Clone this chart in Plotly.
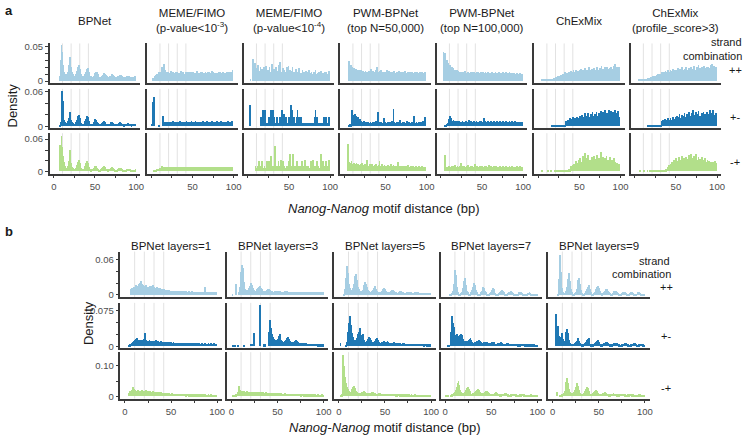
import plotly.graph_objects as go

# ---------------- data (density values in units of 0.001, distance 0..99 bp) ----------------
DIST = list(range(100))

TOP_HEADERS = ["BPNet", "MEME/FIMO<br>(p-value&lt;10<sup>-3</sup>)", "MEME/FIMO<br>(p-value&lt;10<sup>-4</sup>)",
               "PWM-BPNet<br>(top N=50,000)", "PWM-BPNet<br>(top N=100,000)", "ChExMix",
               "ChExMix<br>(profile_score&gt;3)"]
BOT_HEADERS = ["BPNet layers=1", "BPNet layers=3", "BPNet layers=5", "BPNet layers=7", "BPNet layers=9"]
STRANDS = ["++", "+-", "-+"]
HELIX_LINES = [10.5, 21, 31.5, 42]
X_TICKS = [0, 25, 50, 75, 100]

# ---- top grid, strand ++ ----
T_BP_PP = [0,0,0,0,0,0,0,6,30,51, 42,22,13,9,8,8,9,13,22,34, 30,19,12,9,7,7,8,10,14,20,
           22,17,12,9,7,6,6,7,9,13, 17,18,13,9,7,6,5,5,6,8, 11,13,12,9,7,5,5,5,6,8,
           10,11,10,8,6,5,5,5,6,7, 9,9,8,6,5,5,5,5,6,7, 8,8,7,6,5,5,5,5,6,7, 7,6,5,5,5,5,5,5,6,5]
T_M3_PP = [0,0,4,0,0,6,8,9,10,11, 12,11,13,20,14,12,24,15,13,12, 11,13,9,11,14,10,9,12,11,8,
           12,10,13,11,9,11,14,10,11,13, 10,9,12,11,10,13,9,12,11,10, 12,13,9,11,10,11,14,11,9,11,
           10,12,13,9,11,10,12,11,9,13, 12,10,11,9,14,12,10,11,10,11, 9,11,12,10,13,10,11,12,9,11,
           11,10,12,13,10,11,12,10,13,16]
T_M4_PP = [0,0,0,2,0,0,31,12,26,8, 18,9,22,14,6,20,12,17,8,19, 14,7,21,10,16,12,20,9,13,24,
           11,17,8,15,19,10,14,22,9,27, 13,8,18,11,16,9,12,20,8,21, 10,15,7,14,19,9,12,8,17,11,
           7,13,18,9,11,6,15,10,12,8, 14,9,7,12,16,8,11,13,7,10, 12,8,15,9,6,11,13,8,10,14,
           7,11,9,13,8,12,10,9,14,11]
T_P50_PP = [0,0,0,0,0,0,28,19,22,17, 20,16,18,15,17,14,16,13,15,14, 13,15,12,14,13,12,14,11,13,12,
            14,11,13,17,12,14,11,13,12,15, 19,13,11,14,12,16,11,13,12,10, 13,11,15,12,10,14,11,12,13,10,
            12,14,11,10,13,12,11,14,10,12, 11,13,10,12,14,11,10,12,11,13, 10,12,11,13,10,11,12,10,11,12,
            10,11,12,10,11,13,10,11,12,10]
T_P100_PP = [0,0,0,41,38,40,24,30,22,26, 19,23,17,20,15,18,14,16,13,15, 12,14,11,13,12,10,13,11,12,14,
             11,10,12,13,11,10,12,11,10,13, 12,10,11,13,10,12,11,10,12,11, 10,12,11,10,13,11,10,12,11,10,
             11,10,12,11,10,11,12,10,11,10, 12,10,11,10,11,12,10,11,10,12, 10,11,10,12,11,10,11,10,9,11,
             10,9,11,10,9,10,11,9,10,9]
T_CX_PP = [0,0,0,0,0,1,1,1,1,1, 2,1,2,2,2,3,2,3,3,4, 3,4,5,4,6,5,7,6,8,7,
           9,8,10,12,9,11,10,13,11,12, 14,12,11,16,13,12,15,11,14,13, 12,15,17,13,14,16,12,18,15,13,
           16,14,19,13,15,17,14,12,18,16, 14,17,20,15,13,18,16,21,14,17, 15,19,16,14,20,17,15,18,16,19,
           17,15,21,24,16,18,20,15,19,17]
T_CXP_PP = [0,0,0,0,0,1,1,1,2,1, 2,2,3,2,3,3,4,3,4,5, 4,5,6,5,7,6,8,7,9,8,
            10,9,11,13,10,12,11,14,12,13, 15,13,12,16,14,12,17,13,15,14, 13,16,18,14,15,17,13,19,16,14,
            17,15,20,14,16,18,15,13,19,17, 15,18,21,16,14,19,17,22,15,18, 16,20,17,15,21,18,16,19,17,20,
            18,16,22,24,17,19,21,16,20,18]

# ---- top grid, strand +- ----
T_BP_PM = [0,0,0,0,0,0,0,3,8,40, 62,45,12,7,6,5,6,9,15,25, 22,12,8,6,5,5,6,8,12,18,
           20,14,9,6,5,5,5,6,9,13, 19,17,10,7,5,4,4,5,7,10, 13,12,8,6,4,4,4,5,6,8,
           10,9,7,5,4,4,4,4,5,7, 8,7,6,4,4,4,4,4,5,6, 7,6,5,4,4,3,4,4,5,5, 6,5,4,4,3,4,4,4,4,4]
T_M3_PM = [0,5,42,10,52,0,0,0,0,0, 2,0,0,0,18,0,6,7,6,8, 6,7,5,8,6,7,6,9,7,6,
           7,6,8,7,6,9,7,6,8,7, 6,8,7,9,6,7,8,6,7,10, 7,6,8,7,9,6,7,8,6,7,
           8,7,6,9,7,6,8,7,10,6, 7,8,6,7,9,7,6,8,7,6, 9,7,6,8,7,10,6,7,8,7, 6,8,7,9,6,7,8,6,9,7]
T_M4_PM = [0,0,38,0,0,0,0,0,0,0, 0,0,0,0,0,6,17,6,28,17, 6,28,6,0,6,17,6,6,28,17,
           28,6,17,6,6,17,6,6,6,17, 6,28,6,6,22,6,17,6,6,17, 6,17,38,6,28,6,17,6,6,17,
           28,6,17,6,17,6,6,6,0,6, 6,0,6,6,6,6,6,6,6,6, 6,17,28,6,17,6,6,0,0,6, 6,6,17,6,6,17,6,0,17,0]
T_P50_PM = [0,0,0,0,0,0,2,4,3,10, 28,20,17,22,14,18,12,16,11,13, 8,10,7,6,9,5,6,8,5,7,
            6,5,7,5,6,8,5,6,7,9, 6,25,8,6,5,7,6,5,14,6, 7,5,6,8,5,6,7,5,9,6,
            31,7,5,6,8,5,6,7,12,5, 6,8,5,7,6,5,9,6,5,7, 6,5,7,6,8,19,5,6,7,5, 6,8,5,7,6,5,10,6,17,5]
T_P100_PM = [0,0,0,0,0,2,3,4,6,9, 13,19,14,10,9,12,8,10,7,9, 8,7,9,6,8,7,10,6,8,7,
             9,7,6,8,12,7,9,6,8,7, 10,8,6,9,7,8,6,10,7,9, 8,6,15,7,9,8,7,10,6,8,
             7,9,6,8,10,7,8,6,9,7, 8,6,9,7,8,10,6,8,7,9, 7,8,6,9,7,8,10,6,8,7, 9,7,8,6,7,8,6,7,8,6]
T_CX_PM = [0,0,0,0,0,0,0,0,0,0, 0,0,0,0,0,0,0,2,2,0, 2,0,2,2,0,3,2,0,3,2,
           0,3,2,3,10,8,12,9,11,14, 10,13,16,11,9,14,12,17,10,15, 13,18,12,20,14,11,16,23,13,19,
           15,24,12,17,21,14,26,13,18,22, 15,25,19,12,23,17,27,14,20,26, 16,28,21,13,24,18,29,15,22,27,
           14,25,17,29,20,12,23,27,16,15]
T_CXP_PM = [0,0,0,0,0,0,0,0,0,0, 0,0,0,0,0,0,2,0,2,2, 0,2,2,3,0,2,3,0,2,3,
            2,0,3,9,11,8,13,10,12,9, 14,11,9,15,12,10,17,13,11,16, 14,19,12,17,22,13,15,20,12,18,
            24,14,17,21,13,26,16,19,12,23, 28,15,20,17,25,13,22,27,16,19, 14,24,18,26,15,21,13,25,17,22,
            19,28,16,23,13,29,20,17,24,14]

# ---- top grid, strand -+ ----
T_BP_MP = [0,0,0,0,0,0,0,48,30,66, 45,28,18,10,6,5,6,10,20,40, 30,16,9,6,5,4,5,7,12,18,
           21,16,9,6,4,4,4,6,10,16, 20,15,9,5,4,3,4,5,7,10, 11,10,7,5,4,3,3,4,6,8,
           10,11,8,5,4,3,3,4,5,7, 8,8,6,4,3,3,3,4,5,6, 7,6,5,4,3,3,3,3,4,5, 5,5,4,3,3,3,3,3,3,4]
T_M3_MP = [0,0,0,2,2,3,3,4,4,5, 5,6,7,10,8,7,7,8,7,8, 7,8,7,8,8,7,8,7,8,8,
           7,8,8,7,8,9,8,7,8,8, 8,7,9,8,7,8,8,9,7,8, 8,9,7,8,8,9,8,7,8,9,
           8,7,9,8,8,7,9,8,7,8, 9,8,7,8,9,8,7,9,8,8, 7,8,9,8,7,9,8,8,9,7, 8,9,8,7,9,8,8,9,8,8]
T_M4_MP = [0,0,0,0,0,0,0,0,0,10, 0,6,10,20,6,0,10,20,6,0, 10,6,0,20,6,20,10,0,28,6,
           10,6,20,47,6,10,0,20,6,10, 22,6,20,0,10,6,6,10,6,20, 10,33,6,10,20,33,6,10,6,20,
           6,0,10,10,6,20,6,0,10,22, 6,10,6,10,0,6,20,10,6,22, 6,10,0,6,20,10,6,6,10,33,
           6,20,0,10,6,20,10,6,22,10]
T_P50_MP = [0,0,0,0,0,50,18,12,15,19, 14,12,16,11,13,15,10,14,12,11, 13,10,15,12,11,14,10,12,21,11,
            10,13,12,9,14,11,10,12,9,13, 11,10,12,20,9,11,13,10,9,12, 11,9,10,12,10,9,11,13,9,10,
            12,9,10,11,9,18,10,8,11,9, 10,8,9,11,9,10,8,9,12,8, 9,10,8,9,11,8,9,10,8,9, 8,10,9,8,9,11,8,9,8,7]
T_P100_MP = [0,0,0,0,0,31,8,7,9,8, 10,9,8,11,9,8,10,12,9,8, 11,9,8,10,16,9,8,11,10,9,
             8,10,9,12,8,9,11,8,10,9, 8,14,9,8,10,9,8,11,8,9, 10,8,9,11,8,10,9,8,12,9,
             8,10,9,8,11,9,8,10,9,8, 9,8,10,9,8,11,8,9,8,10, 8,9,8,10,8,9,11,8,9,8, 9,8,10,8,9,8,10,8,9,7]
T_CX_MP = [0,0,0,0,0,1,0,0,0,0, 0,0,1,0,0,0,1,0,0,0, 1,0,1,0,1,1,0,1,1,1,
           1,2,1,2,2,1,3,2,4,3, 10,5,12,8,14,9,20,11,16,22, 13,25,18,12,21,28,16,35,19,24,
           14,30,17,22,12,26,20,15,28,18, 23,13,31,19,25,16,36,21,14,27, 18,24,12,29,17,21,15,26,19,13,
           22,16,24,14,18,12,16,14,13,13]
T_CXP_MP = [0,0,0,0,0,0,1,0,0,0, 0,1,0,0,0,1,0,0,1,0, 0,1,1,0,1,0,1,1,2,1,
            2,1,2,1,3,2,3,4,3,5, 8,12,6,14,10,17,9,21,13,18, 24,11,19,27,15,22,13,29,17,25,
            19,14,26,12,23,31,16,20,33,18, 24,14,28,19,33,15,21,26,13,23, 17,27,15,22,12,25,18,14,21,16,
            20,13,18,15,12,17,14,19,13,15]

# ---- bottom grid (BPNet layers), strand ++ ----
B1_PP = [0,0,0,0,0,0,0,10,13,12, 15,14,17,13,16,15,19,21,24,20, 18,16,15,17,14,13,15,14,16,13,
         16,18,15,13,12,14,11,12,13,11, 10,11,9,10,9,8,9,8,9,8, 8,7,8,7,8,7,7,8,7,7,
         7,6,7,7,6,7,6,7,6,6, 7,6,6,7,6,6,5,6,6,6, 6,5,6,6,5,6,6,14,6,5, 6,5,6,5,6,5,5,6,5,5]
B3_PP = [0,3,0,0,0,20,0,0,5,14, 40,52,46,22,14,10,9,8,9,12, 16,21,18,12,9,8,8,9,10,13,
         15,16,13,10,8,7,7,8,9,10, 11,10,9,8,7,6,6,7,7,8, 8,8,7,7,6,6,6,6,7,7,
         7,6,6,6,5,6,6,6,6,6, 6,6,5,5,6,5,6,5,6,5, 5,6,5,5,6,5,5,6,5,5, 5,5,6,5,5,5,5,5,5,5]
B5_PP = [0,0,0,0,0,0,3,10,30,50, 38,20,12,9,8,9,12,20,32,36, 26,15,10,8,7,7,9,12,17,22,
         20,14,9,7,6,6,7,9,13,16, 15,11,8,6,5,5,6,8,10,12, 11,8,6,5,5,5,6,7,9,9,
         8,6,5,4,4,5,6,7,7,6, 5,4,4,4,5,5,6,6,5,4, 4,4,4,5,5,5,5,4,4,4, 4,4,4,4,4,4,4,4,4,4]
B7_PP = [0,0,0,0,0,2,3,4,8,20, 43,34,14,6,4,3,3,4,6,12, 24,29,18,8,5,3,3,4,5,9,
         15,21,17,9,5,3,3,3,5,7, 11,15,13,8,5,3,3,3,4,6, 9,12,10,7,4,3,3,3,4,5,
         7,9,8,5,3,3,3,3,4,5, 6,7,6,4,3,3,3,3,3,4, 5,6,5,4,3,2,2,2,3,4, 4,5,4,3,2,2,2,2,2,2]
B9_PP = [0,0,0,0,0,0,2,28,69,40, 12,5,4,4,5,8,14,28,38,24, 10,5,3,3,4,6,10,18,26,29,
         20,9,4,3,3,4,7,11,15,18, 16,10,5,3,3,4,6,10,14,16, 12,7,4,3,3,4,6,8,10,10,
         8,6,4,3,3,4,5,7,8,7, 6,4,3,3,3,4,5,6,6,5, 4,3,3,3,4,5,5,4,3,3, 2,3,4,5,5,4,3,2,2,2]

# ---- bottom grid, strand +- ----
B1_PM = [0,0,0,0,0,2,4,6,8,9, 11,13,15,17,16,14,13,12,14,13, 12,16,29,13,12,11,12,13,11,12,
         11,12,10,11,13,10,11,9,10,11, 10,9,10,9,8,9,10,8,9,8, 9,8,8,9,7,8,8,7,8,7,
         8,7,7,8,7,7,6,7,8,7, 7,6,7,7,6,7,6,7,6,7, 6,7,6,6,7,6,6,7,6,6, 6,7,6,6,7,6,6,7,6,6]
B3_PM = [0,3,3,0,3,0,0,3,0,0, 0,0,0,2,0,0,0,0,0,0, 0,5,6,6,29,0,0,0,0,0,
         0,88,0,0,0,4,4,0,0,0, 0,30,56,38,26,20,16,14,13,12, 15,22,26,18,13,11,10,10,11,14,
         18,20,15,11,9,8,8,9,10,11, 13,11,9,8,7,7,7,7,8,8, 8,7,6,6,6,6,6,6,6,5, 5,5,5,5,4,4,4,4,4,4]
B5_PM = [0,0,8,0,0,0,0,0,3,10, 30,50,65,45,35,28,20,14,11,13, 18,26,30,38,25,20,27,18,13,10,
         10,12,15,20,18,13,10,9,10,12, 14,15,17,13,10,8,8,9,10,11, 10,9,10,11,9,8,7,7,8,8,
         9,8,7,6,7,7,8,7,6,6, 7,7,6,6,5,6,6,6,5,5, 6,6,5,5,5,5,5,5,5,5, 5,5,5,4,5,5,4,4,5,4]
B7_PM = [0,0,0,3,2,0,30,65,50,42, 24,22,26,20,18,22,25,27,24,16, 12,10,11,9,12,14,16,17,14,10,
         8,8,9,10,11,12,13,12,9,7, 7,8,9,10,10,9,8,7,7,8, 9,10,9,7,6,6,6,7,8,8,
         9,8,6,5,5,5,6,7,7,6, 5,5,5,5,6,6,6,5,4,4, 4,4,5,5,5,5,4,4,4,4, 4,4,4,4,4,4,4,3,3,3]
B9_PM = [0,0,0,0,69,30,44,22,14,20, 29,16,10,12,18,30,37,28,14,8, 6,5,5,6,7,9,12,16,18,12,
         7,5,4,4,5,7,10,13,15,17, 11,6,4,4,4,5,7,10,12,13, 10,6,4,4,4,5,7,8,9,10,
         8,6,4,3,4,5,6,7,8,8, 7,6,4,3,3,4,5,6,7,8, 7,6,4,3,3,4,5,6,7,8, 6,4,3,3,4,5,6,5,4,3]

# ---- bottom grid, strand -+ ----
B1_MP = [0,0,0,0,0,12,16,18,22,29, 24,20,18,16,17,19,18,16,17,20, 18,16,17,19,16,15,17,15,16,14,
         15,16,14,13,15,14,13,15,12,13, 12,11,12,10,11,10,11,9,10,9, 9,10,8,9,8,9,8,8,7,8,
         8,7,8,7,7,8,7,6,7,7, 6,7,6,7,6,6,7,6,6,5, 6,6,5,6,5,6,5,6,5,5, 5,6,5,5,6,5,5,5,5,5]
B3_MP = [0,4,0,3,5,6,9,14,34,22, 16,15,17,16,14,15,13,16,14,13, 14,13,15,12,14,13,12,14,13,12,
         13,12,14,12,13,11,12,13,11,12, 12,11,12,10,11,12,10,11,10,11, 10,9,10,9,10,9,8,9,10,8,
         9,8,9,8,8,7,8,9,7,8, 7,8,7,7,8,6,7,7,6,7, 6,7,6,6,7,6,6,5,6,6, 5,6,5,5,6,5,5,5,6,5]
B5_MP = [0,0,3,0,6,136,98,64,44,30, 24,18,14,13,16,24,30,34,26,18, 13,11,10,10,11,13,15,17,16,13,
         11,10,9,10,11,12,13,14,12,10, 9,9,8,9,10,10,9,8,8,8, 8,8,9,8,7,7,7,7,8,7,
         7,7,6,6,7,7,6,6,6,6, 6,6,6,6,5,6,6,5,5,6, 5,5,5,6,5,5,5,5,5,5, 5,5,5,4,5,5,5,4,5,4]
B7_MP = [3,0,0,5,0,0,3,6,8,10, 14,20,30,42,49,38,22,14,11,10, 11,14,20,26,29,24,16,11,9,9,
         10,11,13,17,22,24,19,13,10,9, 9,10,12,15,17,18,14,10,8,7, 7,8,9,11,12,13,11,8,7,6,
         6,7,8,9,10,10,8,7,6,5, 5,6,7,8,8,7,6,5,5,5, 5,6,6,7,7,6,5,5,4,4, 4,5,5,6,5,5,4,4,4,4]
B9_MP = [0,0,0,0,0,13,0,0,2,4, 6,8,10,16,30,48,61,45,24,14, 10,9,10,13,20,32,42,45,34,20,
         12,9,8,9,12,18,25,29,26,17, 11,8,7,8,10,14,18,20,17,12, 9,7,7,7,9,11,12,13,11,9,
         7,6,6,7,8,9,10,9,8,7, 6,6,6,7,7,8,8,7,6,6, 5,5,6,6,7,7,6,6,5,5, 5,5,5,5,6,6,5,5,5,5]

TOP_DATA = [[T_BP_PP, T_M3_PP, T_M4_PP, T_P50_PP, T_P100_PP, T_CX_PP, T_CXP_PP],
            [T_BP_PM, T_M3_PM, T_M4_PM, T_P50_PM, T_P100_PM, T_CX_PM, T_CXP_PM],
            [T_BP_MP, T_M3_MP, T_M4_MP, T_P50_MP, T_P100_MP, T_CX_MP, T_CXP_MP]]
BOT_DATA = [[B1_PP, B3_PP, B5_PP, B7_PP, B9_PP],
            [B1_PM, B3_PM, B5_PM, B7_PM, B9_PM],
            [B1_MP, B3_MP, B5_MP, B7_MP, B9_MP]]

TOP_YTICKS = [([0, .01, .02, .03, .04, .05], ['0', '', '', '', '', '0.05']),
              ([0, .02, .04, .06], ['0', '', '', '0.06']),
              ([0, .02, .04, .06], ['0', '', '', '0.06'])]
BOT_YTICKS = [([0, .02, .04, .06], ['0', '', '', '0.06']),
              ([0, .025, .05, .075], ['0', '', '', '0.075']),
              ([0, .05, .10], ['0', '', '0.10'])]

# ---------------- styling / layout ----------------
W, H = 750, 440
COLORS = ['#A6CEE3', '#1F78B4', '#B2DF8A']
AXC = '#3a3a3a'
FONT = 'Liberation Sans, Arial, Helvetica, sans-serif'
TXT = '#1a1a1a'
TICKC = '#4d4d4d'

GRIDS = [
    dict(lefts=[50, 148, 245, 342, 439, 537, 634], width=91,
         rows=[(41, 81), (87, 127), (132, 173)],
         yranges=[(-0.0027, 0.0543), (-0.0034, 0.065), (-0.0036, 0.071)],
         yticks=TOP_YTICKS, data=TOP_DATA, hide_zero=True),
    dict(lefts=[121, 228, 336, 443, 551], width=102,
         rows=[(252, 298), (304, 350), (354, 401)],
         yranges=[(-0.0033, 0.0733), (-0.0042, 0.0917), (-0.0068, 0.145)],
         yticks=BOT_YTICKS, data=BOT_DATA, hide_zero=False),
]

fig = go.Figure()
layout = {}
shapes = []
n = 0
for g in GRIDS:
    for r, (top, bot) in enumerate(g['rows']):
        for c, left in enumerate(g['lefts']):
            n += 1
            vals = g['data'][r][c]
            xa = 'x' if n == 1 else f'x{n}'
            ya = 'y' if n == 1 else f'y{n}'
            fig.add_trace(go.Bar(x=DIST[:len(vals)], y=[v / 1000 for v in vals], xaxis=xa, yaxis=ya,
                                 width=1, marker=dict(color=COLORS[r], line=dict(width=0)),
                                 showlegend=False, hoverinfo='skip'))
            is_bottom = r == len(g['rows']) - 1
            is_first = c == 0
            if g['hide_zero'] and c > 0:
                xtt = ['', '', '50', '', '100']
            else:
                xtt = ['0', '', '50', '', '100']
            layout['xaxis' if n == 1 else f'xaxis{n}'] = dict(
                domain=[left / W, (left + g['width']) / W], range=[-5, 105], anchor=ya,
                showline=True, linecolor=AXC, linewidth=1.5, showgrid=False, zeroline=False,
                ticks='outside' if is_bottom else '', ticklen=3, tickwidth=1, tickcolor=AXC,
                tickvals=X_TICKS, ticktext=xtt, showticklabels=is_bottom,
                tickfont=dict(family=FONT, size=9.5, color=TICKC), fixedrange=True)
            tv, tt = g['yticks'][r]
            layout['yaxis' if n == 1 else f'yaxis{n}'] = dict(
                domain=[1 - bot / H, 1 - top / H], range=list(g['yranges'][r]), anchor=xa,
                showline=True, linecolor=AXC, linewidth=1.5, showgrid=False, zeroline=False,
                ticks='outside' if is_first else '', ticklen=3, tickwidth=1, tickcolor=AXC,
                tickvals=tv, ticktext=tt, showticklabels=is_first,
                tickfont=dict(family=FONT, size=9.5, color=TICKC), fixedrange=True)
            for v in HELIX_LINES:
                shapes.append(dict(type='line', xref=xa, yref=f'{ya} domain', x0=v, x1=v, y0=0, y1=1,
                                   line=dict(color='#E2E2E2', width=1), layer='below'))

ann = []
def add_text(x, y, text, size=12, xanchor='center', yanchor='middle', color=TXT, angle=0):
    ann.append(dict(x=x / W, y=1 - y / H, xref='paper', yref='paper', text=text, showarrow=False,
                    xanchor=xanchor, yanchor=yanchor, textangle=angle,
                    font=dict(family=FONT, size=size, color=color)))

add_text(3, 8, '<b>a</b>', size=13, xanchor='left')
add_text(3, 232, '<b>b</b>', size=13, xanchor='left')
for c, h in enumerate(TOP_HEADERS):
    l = GRIDS[0]['lefts'][c]
    add_text(l + GRIDS[0]['width'] / 2, 18, h, size=11.5)
for c, h in enumerate(BOT_HEADERS):
    l = GRIDS[1]['lefts'][c]
    add_text(l + GRIDS[1]['width'] / 2, 246, h, size=11.5)

add_text(748, 40, 'strand', size=11, xanchor='right')
add_text(748, 54, 'combination', size=11, xanchor='right')
for s, y in zip(STRANDS, [68, 116, 161]):
    add_text(739, y, s, size=11)
add_text(676, 262, 'strand', size=11, xanchor='right')
add_text(677, 275, 'combination', size=11, xanchor='right')
for s, y in zip(STRANDS, [288, 338, 390]):
    add_text(670, y, s, size=11)

add_text(13, 104, 'Density', size=13, angle=-90)
add_text(89, 325, 'Density', size=13, angle=-90)
add_text(386, 208, '<i>Nanog-Nanog</i> motif distance (bp)', size=13)
add_text(387, 430, '<i>Nanog-Nanog</i> motif distance (bp)', size=13)

fig.update_layout(width=W, height=H, margin=dict(l=0, r=0, t=0, b=0),
                  paper_bgcolor='white', plot_bgcolor='white', bargap=0,
                  shapes=shapes, annotations=ann, **layout)
fig.write_html('out.html', config={'displayModeBar': False},
               post_script="document.body.style.margin='0';document.body.style.overflow='hidden';")
